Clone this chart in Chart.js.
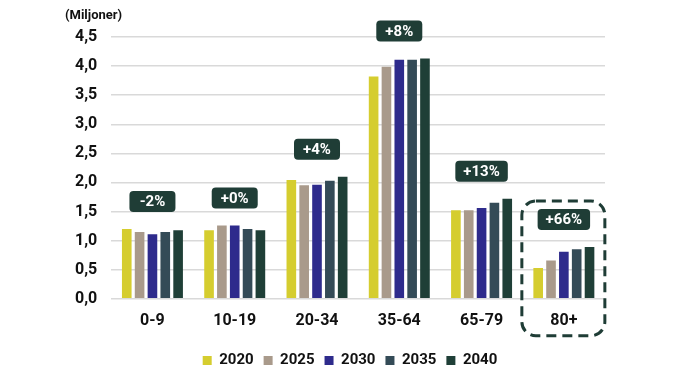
<!DOCTYPE html>
<html>
<head>
<meta charset="utf-8">
<script src="https://cdn.jsdelivr.net/npm/chart.js@4/dist/chart.umd.min.js"></script>
<style>
  html,body{margin:0;padding:0;background:#fff;}
  #wrap{position:relative;width:675px;height:389px;}
</style>
</head>
<body>
<div id="wrap"><canvas id="c" width="675" height="389"></canvas></div>
<script>
const categories = ['0-9', '10-19', '20-34', '35-64', '65-79', '80+'];
const years = ['2020', '2025', '2030', '2035', '2040'];
const v2020 = [1.20, 1.18, 2.04, 3.82, 1.52, 0.53];
const v2025 = [1.15, 1.26, 1.95, 3.99, 1.52, 0.66];
const v2030 = [1.11, 1.26, 1.96, 4.11, 1.56, 0.81];
const v2035 = [1.15, 1.20, 2.03, 4.11, 1.65, 0.85];
const v2040 = [1.18, 1.18, 2.10, 4.13, 1.72, 0.89];
const changeLabels = ['-2%', '+0%', '+4%', '+8%', '+13%', '+66%'];
const yTicks = [0, 0.5, 1.0, 1.5, 2.0, 2.5, 3.0, 3.5, 4.0, 4.5];
const highlightIndex = 5;

const colors = ['#d5cd2f', '#a99a8b', '#2e2b8c', '#344b57', '#1f3f37'];
const seriesValues = [v2020, v2025, v2030, v2035, v2040];
const DARK = '#1f3d36';
const FONT = 'Roboto, "Liberation Sans", Arial, sans-serif';

const legendShift = {
  id: 'legendShift',
  afterLayout(chart) {
    if (chart.legend) { chart.legend.left += 17; chart.legend.right += 17; }
  }
};

const labelPlugin = {
  id: 'changeLabels',
  afterDraw(chart) {
    const ctx = chart.ctx;
    const xs = chart.scales.x, ys = chart.scales.y;
    ctx.save();
    {
      const cx = xs.getPixelForValue(highlightIndex);
      const maxV = Math.max(...seriesValues.map(s => s[highlightIndex]));
      const top = ys.getPixelForValue(maxV) - 46;
      const bottom = chart.chartArea.bottom + 37;
      const left = cx - 42, right = cx + 41;
      ctx.setLineDash([10, 6]);
      ctx.lineWidth = 3;
      ctx.strokeStyle = DARK;
      ctx.beginPath();
      ctx.roundRect(left, top, right - left, bottom - top, 14);
      ctx.stroke();
      ctx.setLineDash([]);
    }
    ctx.font = 'bold 15px ' + FONT;
    ctx.textAlign = 'center';
    ctx.textBaseline = 'middle';
    categories.forEach((c, i) => {
      const maxV = Math.max(...seriesValues.map(s => s[i]));
      const cx = xs.getPixelForValue(i);
      const h = 21;
      const w = Math.max(46, ctx.measureText(changeLabels[i]).width + 16);
      const bottom = ys.getPixelForValue(maxV) - 17;
      ctx.fillStyle = DARK;
      ctx.beginPath();
      ctx.roundRect(cx - w / 2, bottom - h, w, h, 4);
      ctx.fill();
      ctx.fillStyle = '#ffffff';
      ctx.fillText(changeLabels[i], cx, bottom - h / 2 + 1);
    });
    ctx.font = 'bold 13px ' + FONT;
    ctx.fillStyle = '#111';
    ctx.textAlign = 'left';
    ctx.fillText('(Miljoner)', 65, 16);
    ctx.restore();
  }
};

new Chart(document.getElementById('c'), {
  type: 'bar',
  data: {
    labels: categories,
    datasets: years.map((y, k) => ({
      label: y,
      data: seriesValues[k],
      backgroundColor: colors[k],
      borderWidth: 0,
      barPercentage: 0.75,
      categoryPercentage: 0.78
    }))
  },
  options: {
    responsive: false,
    animation: false,
    layout: { padding: { top: 37, left: 61, right: 70, bottom: 11 } },
    plugins: {
      legend: {
        position: 'bottom',
        labels: {
          boxWidth: 9, boxHeight: 9, padding: 10,
          color: '#111',
          font: { family: FONT, size: 15, weight: 'bold' }
        }
      },
      tooltip: { enabled: false }
    },
    scales: {
      x: {
        grid: { display: false },
        border: { display: false },
        afterFit(axis) { axis.height += 7; },
        ticks: { color: '#111', font: { family: FONT, size: 16, weight: 'bold' }, padding: 5 }
      },
      y: {
        min: 0, max: 4.5,
        afterBuildTicks(axis) { axis.ticks = yTicks.map(v => ({ value: v })); },
        grid: { color: '#d9d9d9', lineWidth: 1.5, drawTicks: false },
        border: { display: false },
        ticks: {
          color: '#111',
          padding: 14,
          font: { family: FONT, size: 16, weight: 'bold' },
          callback: v => v.toFixed(1).replace('.', ',')
        }
      }
    }
  },
  plugins: [legendShift, labelPlugin]
});
</script>
</body>
</html>
